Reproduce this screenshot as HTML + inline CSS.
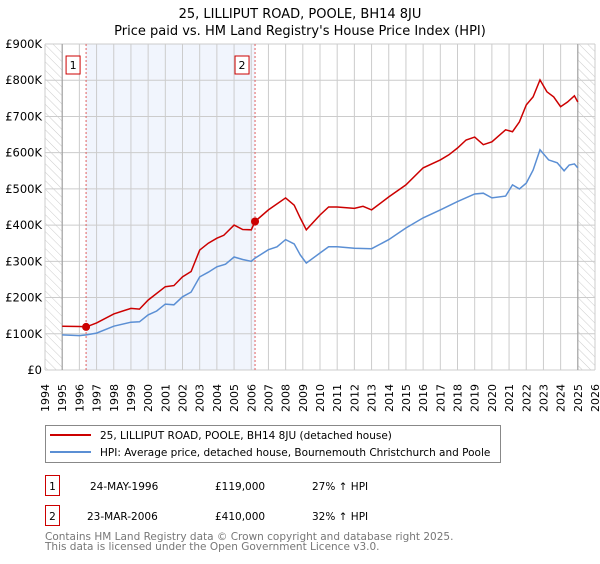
<!DOCTYPE html>
<html><head><meta charset="utf-8"><style>
body{margin:0;background:#fff;font-family:"DejaVu Sans","Liberation Sans",sans-serif;}
svg text{font-family:"DejaVu Sans","Liberation Sans",sans-serif;}
</style></head><body>
<svg id="chart" width="600" height="560" xmlns="http://www.w3.org/2000/svg">
<defs><pattern id="hatch" width="6" height="6" patternUnits="userSpaceOnUse" patternTransform="rotate(-45)"><line x1="0" y1="0" x2="0" y2="6" stroke="#ccc" stroke-width="1"/></pattern></defs>
<text x="300" y="18" text-anchor="middle" font-size="13" fill="#000">25, LILLIPUT ROAD, POOLE, BH14 8JU</text>
<text x="300" y="35" text-anchor="middle" font-size="13" fill="#000">Price paid vs. HM Land Registry's House Price Index (HPI)</text>
<g id="plot"></g>
<g>
<rect x="45.5" y="425.5" width="455" height="37" fill="#fff" stroke="#888"/>
<line x1="50" y1="435" x2="91" y2="435" stroke="#cc0000" stroke-width="2"/>
<text x="100" y="439" font-size="10.5">25, LILLIPUT ROAD, POOLE, BH14 8JU (detached house)</text>
<line x1="50" y1="452" x2="91" y2="452" stroke="#5b8fd4" stroke-width="2"/>
<text x="100" y="456" font-size="10.5">HPI: Average price, detached house, Bournemouth Christchurch and Poole</text>
</g>
<g font-size="10.5">
<rect x="45.5" y="475.5" width="14" height="20" fill="#fff" stroke="#cc0000"/><text x="52.5" y="490" text-anchor="middle">1</text>
<text x="90" y="490">24-MAY-1996</text><text x="215" y="490">£119,000</text><text x="312" y="490">27% ↑ HPI</text>
<rect x="45.5" y="505.5" width="14" height="20" fill="#fff" stroke="#cc0000"/><text x="52.5" y="520" text-anchor="middle">2</text>
<text x="87" y="520">23-MAR-2006</text><text x="215" y="520">£410,000</text><text x="312" y="520">32% ↑ HPI</text>
</g>
<text font-size="10.5" fill="#777"><tspan x="45" y="540">Contains HM Land Registry data © Crown copyright and database right 2025.</tspan><tspan x="45" y="550">This data is licensed under the Open Government Licence v3.0.</tspan></text>
</svg>
<script>
const hpiYears=[1995,1996,1996.4,1997,1998,1999,1999.5,2000,2000.5,2001,2001.5,2002,2002.5,2003,2003.5,2004,2004.5,2005,2005.5,2006,2006.2,2007,2007.5,2008,2008.5,2008.85,2009.2,2010,2010.5,2011,2012,2013,2014,2015,2016,2017,2018,2019,2019.5,2020,2020.8,2021.2,2021.6,2022,2022.4,2022.8,2023.3,2023.8,2024.2,2024.5,2024.8,2025];
const hpiValues=[97,95,97,102,121,132,133,152,163,182,180,202,215,257,270,285,292,312,305,300,308,332,340,360,348,318,295,323,340,340,336,335,360,392,420,442,465,486,488,475,480,511,500,516,552,608,580,572,550,566,569,558];
const propYears=[1995,1996,1996.4,1997,1998,1999,1999.5,2000,2001,2001.5,2002,2002.5,2003,2003.5,2004,2004.4,2005,2005.5,2006,2006.22,2007,2008,2008.5,2008.85,2009.2,2010,2010.5,2011,2012,2012.5,2013,2014,2015,2016,2017,2017.5,2018,2018.5,2019,2019.5,2020,2020.8,2021.2,2021.6,2022,2022.4,2022.8,2023.2,2023.6,2024,2024.4,2024.8,2025];
const propValues=[121,120,119,130,155,170,168,193,230,233,257,272,331,350,364,372,400,388,387,410,442,475,455,420,387,428,450,450,446,452,442,478,511,558,580,594,613,635,643,622,630,663,658,685,732,754,801,768,754,727,740,757,740];
const saleYears=[1996.39,2006.22];
const saleValues=[119,410];
const yTicks=[0,100,200,300,400,500,600,700,800,900];
const yTickLabels=["£0","£100K","£200K","£300K","£400K","£500K","£600K","£700K","£800K","£900K"];
const xTicks=[];for(let y=1994;y<=2026;y++)xTicks.push(y);

const X0=45,X1=595,Y0=370,Y1=44;
const x=v=>X0+(v-1994)/(2026-1994)*(X1-X0);
const y=v=>Y0-v/900*(Y0-Y1);
const NS="http://www.w3.org/2000/svg";
const g=document.getElementById('plot');
function mk(t,a){const e=document.createElementNS(NS,t);for(const k in a)e.setAttribute(k,a[k]);g.appendChild(e);return e;}
let e;
e=mk('rect',{x:x(1994),y:Y1,width:x(1995)-x(1994),height:Y0-Y1,fill:'url(#hatch)'});


e=mk('rect',{x:x(2025),y:Y1,width:x(2026)-x(2025),height:Y0-Y1,fill:'url(#hatch)'});


e=mk('rect',{x:x(saleYears[0]),y:Y1,width:x(saleYears[1])-x(saleYears[0]),height:Y0-Y1,fill:'#eef3fc',opacity:0.8});


xTicks.forEach(t=>{
 e=mk('line',{x1:x(t),x2:x(t),y1:Y1,y2:Y0,stroke:'#ccc','stroke-width':1});
 
 
 e=mk('text',{transform:`translate(${x(t)+4},${Y0+42}) rotate(-90)`,'font-size':11,fill:'#000'});e.textContent=t;
 
 
});
yTicks.forEach((t,i)=>{
 e=mk('line',{x1:X0,x2:X1,y1:y(t),y2:y(t),stroke:'#ccc','stroke-width':1});
 
 
 e=mk('text',{x:X0-3,y:y(t)+4,'text-anchor':'end','font-size':11.5,fill:'#000'});e.textContent=yTickLabels[i];
 
 
});
[1995,2025].forEach(t=>{e=mk('line',{x1:x(t),x2:x(t),y1:Y1,y2:Y0,stroke:'#999','stroke-width':1});
 
 });
saleYears.forEach((s,i)=>{
 e=mk('line',{x1:x(s),x2:x(s),y1:Y1,y2:Y0,stroke:'#e06060','stroke-width':1,'stroke-dasharray':'2,2'});
 
 
 e=mk('rect',{x:x(s)-20,y:56,width:14,height:18,fill:'#fff',stroke:'#cc0000'});
 
 
 e=mk('text',{x:x(s)-13,y:69,'text-anchor':'middle','font-size':11});e.textContent=String(i+1);
 
 
});
const path=(xs,vs)=>xs.map((t,i)=>(i?'L':'M')+x(t).toFixed(1)+','+y(vs[i]).toFixed(1)).join('');
e=mk('path',{d:path(hpiYears,hpiValues),fill:'none',stroke:'#5b8fd4','stroke-width':1.5});


e=mk('path',{d:path(propYears,propValues),fill:'none',stroke:'#cc0000','stroke-width':1.5});


saleYears.forEach((s,i)=>{
 e=mk('circle',{cx:x(s),cy:y(saleValues[i]),r:4,fill:'#cc0000'});
 
 
});
</script>
</body></html>
